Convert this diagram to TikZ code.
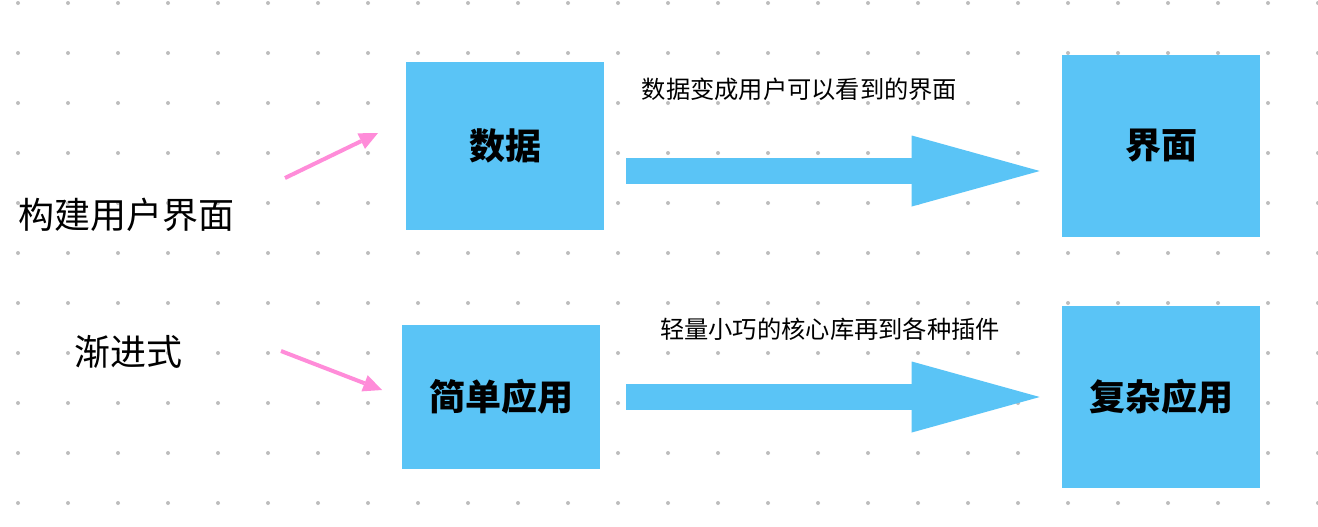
\documentclass[tikz,border=0pt]{standalone}
\usepackage{fontspec}
\setmainfont{Noto Sans CJK SC}
\usetikzlibrary{arrows.meta,calc}
\definecolor{boxblue}{HTML}{5AC4F6}
\definecolor{linkpink}{HTML}{FF8CD9}
\definecolor{dotgray}{HTML}{BDBDBD}

\begin{document}
\begin{tikzpicture}[x=0.75pt, y=-0.75pt,
  box/.style={fill=boxblue, inner sep=0pt, minimum width=148.5pt,
              font=\fontsize{27}{30}\selectfont\bfseries},
  title/.style={anchor=west, inner sep=0pt, font=\fontsize{27}{30}\selectfont},
  note/.style={inner sep=0pt, font=\fontsize{18.2}{22}\selectfont},
  bigarr/.style={-{Triangle[length=96pt, width=53.25pt, line width=0pt]}, line width=19.5pt,
                 draw=boxblue, shorten <=16.5pt, shorten >=16.5pt},
  pinkarr/.style={-{Triangle[length=14pt, width=13pt, line width=0pt]}, line width=3pt, draw=linkpink}]

\useasboundingbox[fill=white] (0,0) rectangle (1318,526);

% dot grid
\foreach \i in {0,...,26}
  \foreach \j in {0,...,10}
    \fill[dotgray] (18+50*\i, 3+50*\j) circle[radius=1.5pt];

% row 1: data to interface
\node[title] (build) at (18,215) {构建用户界面};
\node[box, minimum height=126pt] (data) at (505,146) {数据};
\node[box, minimum height=136.5pt] (ui) at (1161,146) {界面};
\node[note] (note1) at (799.5,89) {数据变成用户可以看到的界面};

% row 2: simple to complex
\node[title] (prog) at (74,352) {渐进式};
\node[box, minimum height=108pt] (simple) at (501,397) {简单应用};
\node[box, minimum height=136.5pt] (complex) at (1161,397) {复杂应用};
\node[note] (note2) at (830,329) {轻量小巧的核心库再到各种插件};

% arrow ends
\coordinate (buildFrom) at (285,178);
\coordinate (buildTo) at (378,133);
\coordinate (progFrom) at (281,351);
\coordinate (progTo) at (382,390);

% arrows
\draw[pinkarr] (buildFrom) -- (buildTo);
\draw[pinkarr] (progFrom) -- (progTo);
\draw[bigarr] ($(data.east)+(0,25)$) -- ($(ui.west)+(0,25)$);
\draw[bigarr, shorten <=19.5pt] (simple) -- (complex);
\end{tikzpicture}
\end{document}
